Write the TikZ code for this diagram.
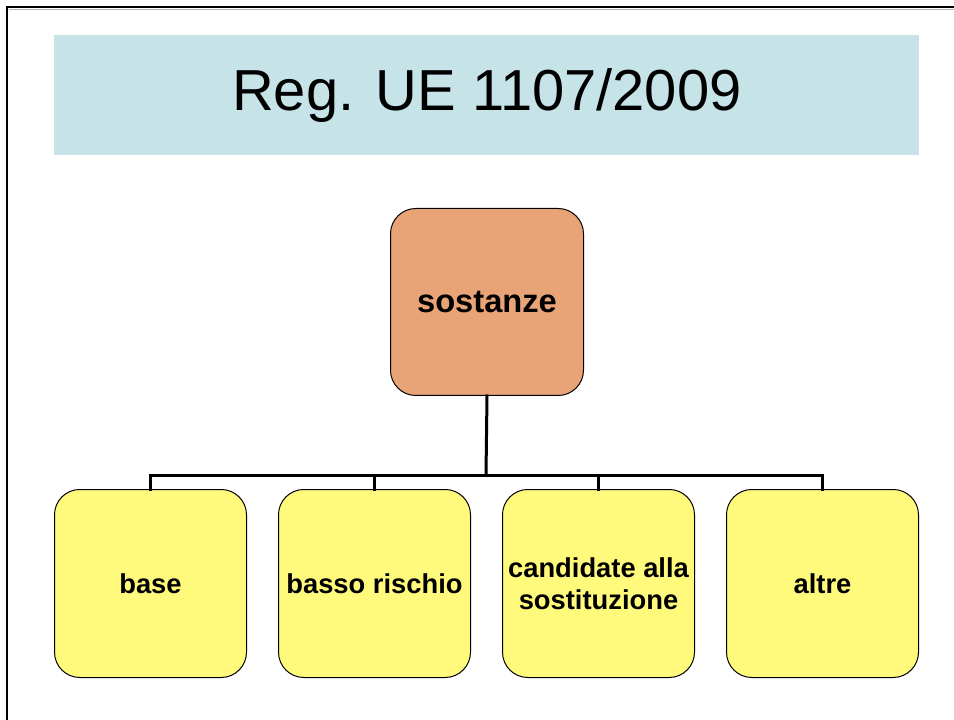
\documentclass[tikz,border=0pt]{standalone}
\usepackage{fontspec}
\setmainfont{Liberation Sans}
\definecolor{titlebg}{HTML}{C6E4E8}
\definecolor{rootfill}{HTML}{E8A477}
\definecolor{leaffill}{HTML}{FFFA7C}
\begin{document}
\begin{tikzpicture}[x=0.75pt,y=-0.75pt,
  box/.style={draw=black,line width=0.75pt,rounded corners=19pt,anchor=north west,inner sep=0pt,align=center,font=\bfseries},
  rootbox/.style={box,fill=rootfill,minimum width=193*0.75pt,minimum height=187*0.75pt,font=\fontsize{24.5}{29}\bfseries\selectfont},
  leafbox/.style={box,fill=leaffill,minimum width=192*0.75pt,minimum height=188*0.75pt,font=\fontsize{20.5}{24}\bfseries\selectfont},
  conn/.style={line width=2.25pt,line cap=rect}]
\useasboundingbox (0,0) rectangle (954,720);
\fill[white] (0,0) rectangle (954,720);
% frame
\draw[line width=1.8pt] (7,725) -- (7,7) -- (960,7);
\draw[gray!60,line width=0.6pt] (8.5,9.3) -- (960,9.3);
% title
\node[fill=titlebg,anchor=north west,minimum width=865*0.75pt,minimum height=120*0.75pt,inner sep=0pt,font=\fontsize{43.4}{50}\selectfont] (title) at (54,35) {Reg. UE 1107/2009};
% root
\node[rootbox] (root) at (390,208) {sostanze};
% leaves
\node[leafbox] (l1) at (54,489) {base};
\node[leafbox] (l2) at (278,489) {basso rischio};
\node[leafbox] (l3) at (502,489) {candidate alla\\sostituzione};
\node[leafbox] (l4) at (726,489) {altre};
% connectors
\coordinate (hub) at (486,475);
\draw[conn] (root.south) -- (hub);
\draw[conn] (l1.north) -- (l1.north |- hub) -- (l4.north |- hub) -- (l4.north);
\draw[conn] (l2.north) -- (l2.north |- hub);
\draw[conn] (l3.north) -- (l3.north |- hub);
\end{tikzpicture}
\end{document}
